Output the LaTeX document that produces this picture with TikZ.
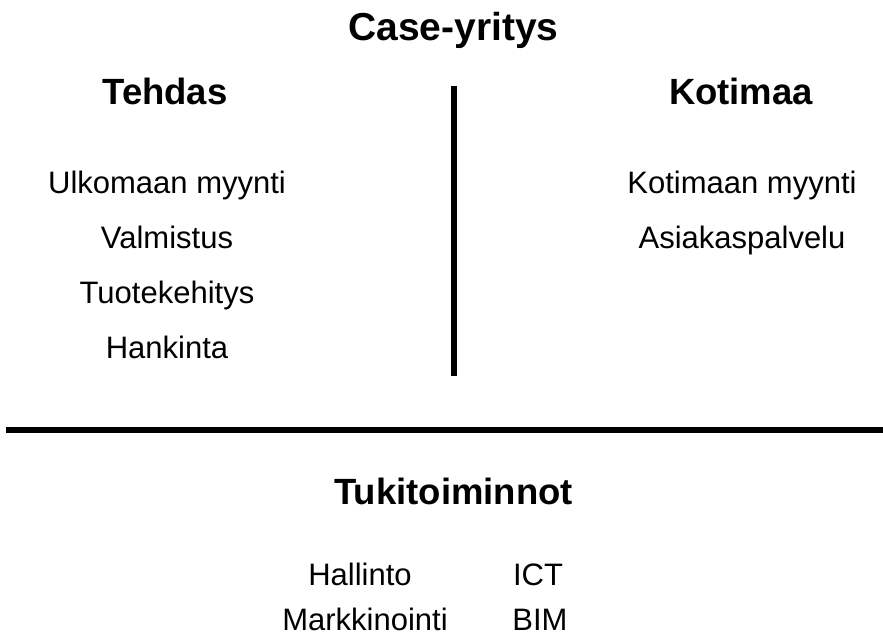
\documentclass[tikz,border=0pt]{standalone}
\usepackage{fontspec}
\setmainfont{Liberation Sans}
\begin{document}
\begin{tikzpicture}[x=1pt,y=-1pt,
  ttl/.style={anchor=base,inner sep=0pt,font=\fontsize{39}{39}\selectfont\bfseries},
  hd/.style={anchor=base,inner sep=0pt,font=\fontsize{36.5}{36.5}\selectfont\bfseries},
  itm/.style={anchor=base,inner sep=0pt,font=\fontsize{31}{31}\selectfont},
  rule/.style={line width=#1,black}]
\useasboundingbox (0,0) rectangle (883,637);
\node[ttl] (title) at (453.5,40) {Case-yritys};
\node[hd] (tehdas) at (165,104) {Tehdas};
\node[hd] (kotimaa) at (741,104) {Kotimaa};
\node[itm] (u1) at (167,193) {Ulkomaan myynti};
\node[itm] (u2) at (167,248) {Valmistus};
\node[itm] (u3) at (167,303) {Tuotekehitys};
\node[itm] (u4) at (167,358) {Hankinta};
\node[itm] (k1) at (742,193) {Kotimaan myynti};
\node[itm] (k2) at (742,248) {Asiakaspalvelu};
\node[hd] (tuki) at (453.5,504) {Tukitoiminnot};
\node[itm] (s1) at (360,585) {Hallinto};
\node[itm] (s2) at (365,630) {Markkinointi};
\node[itm] (s3) at (538,585) {ICT};
\node[itm] (s4) at (540,630) {BIM};
\coordinate (vtop) at (453.5,86);
\coordinate (vbot) at (453.5,376);
\coordinate (hl) at (6,430);
\coordinate (hr) at (883,430);
\draw[rule=6pt] (vtop) -- (vbot);
\draw[rule=6pt] (hl) -- (hr);
\end{tikzpicture}
\end{document}
